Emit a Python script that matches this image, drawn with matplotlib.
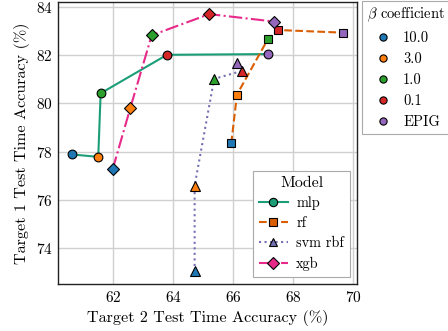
import numpy as np
import matplotlib
matplotlib.use("Agg")
import matplotlib.pyplot as plt
from matplotlib.lines import Line2D

plt.rcParams['font.family'] = ['cmr10', 'DejaVu Serif']
plt.rcParams['mathtext.fontset'] = 'cm'
plt.rcParams['axes.formatter.use_mathtext'] = True

# beta order: 10.0, 3.0, 1.0, 0.1, EPIG
betas = ['10.0', '3.0', '1.0', '0.1', 'EPIG']
beta_colors = ['#1f77b4', '#ff7f0e', '#2ca02c', '#d62728', '#9467bd']

models = ['mlp', 'rf', 'svm rbf', 'xgb']
model_colors = ['#1b9e77', '#d95f02', '#7570b3', '#e7298a']
model_markers = ['o', 's', '^', 'D']
model_styles = ['-', '--', ':', '-.']
marker_sizes = [6.3, 6.3, 6.5, 6.2]

# x = target 2 accuracy, y = target 1 accuracy
mlp_x = [60.64, 61.51, 61.59, 63.80, 67.17]
mlp_y = [77.88, 77.78, 80.42, 82.02, 82.05]
rf_x = [65.94, 66.13, 67.17, 67.50, 69.66]
rf_y = [78.34, 80.37, 82.69, 83.05, 82.94]
svm_x = [64.72, 64.72, 65.37, 66.29, 66.13]
svm_y = [73.02, 76.58, 81.02, 81.35, 81.70]
xgb_x = [61.99, 62.58, 63.29, 65.21, 67.37]
xgb_y = [77.26, 79.82, 82.83, 83.71, 83.40]

xs = [mlp_x, rf_x, svm_x, xgb_x]
ys = [mlp_y, rf_y, svm_y, xgb_y]

fig = plt.figure(figsize=(4.48, 3.31), dpi=100)
ax = fig.add_axes([0.1295, 0.142, 0.797 - 0.1295, 0.993 - 0.142])

for i, m in enumerate(models):
    ax.plot(xs[i], ys[i], linestyle=model_styles[i], color=model_colors[i],
            lw=1.5, zorder=2)
    for j in range(len(betas)):
        ax.plot(xs[i][j], ys[i][j], marker=model_markers[i], ms=marker_sizes[i],
                mfc=beta_colors[j], mec='black', mew=0.8, ls='none', zorder=3)

ax.set_xlim(60.17, 70.13)
ax.set_ylim(72.5, 84.2)
ax.set_xticks([62, 64, 66, 68, 70])
ax.set_yticks([74, 76, 78, 80, 82, 84])
ax.grid(True, color='#d0d0d0', lw=1.0)
ax.set_axisbelow(True)
ax.tick_params(length=0, labelsize=11, pad=4)
for s in ax.spines.values():
    s.set_color('#222222')
    s.set_linewidth(1.0)

ax.set_xlabel('Target 2 Test Time Accuracy (%)', fontsize=11.6)
ax.set_ylabel('Target 1 Test Time Accuracy (%)', fontsize=11.6)

beta_handles = [Line2D([], [], marker='o', ls='none', mfc=c, mec='black',
                       mew=0.8, ms=5.2) for c in beta_colors]
leg1 = ax.legend(beta_handles, betas, title=r'$\beta$ coefficient',
                 loc='upper left', bbox_to_anchor=(1.017, 1.003), borderaxespad=0,
                 fontsize=10.5, title_fontsize=10.5, fancybox=False,
                 edgecolor='#aaaaaa', framealpha=1, borderpad=0.3,
                 handlelength=1.6, handletextpad=0.6)
leg1.get_frame().set_linewidth(0.8)
ax.add_artist(leg1)

model_handles = [Line2D([], [], color=model_colors[i], ls=model_styles[i], lw=1.5,
                        marker=model_markers[i], mfc=model_colors[i],
                        mec='black', mew=0.8, ms=6) for i in range(len(models))]
leg2 = ax.legend(model_handles, models, title='Model', loc='lower right',
                 fontsize=10.3, title_fontsize=11.5, fancybox=False,
                 edgecolor='#aaaaaa', framealpha=1, labelspacing=0.45,
                 handletextpad=0.6)
leg2.get_frame().set_linewidth(0.8)

fig.savefig('out.png', dpi=100)
